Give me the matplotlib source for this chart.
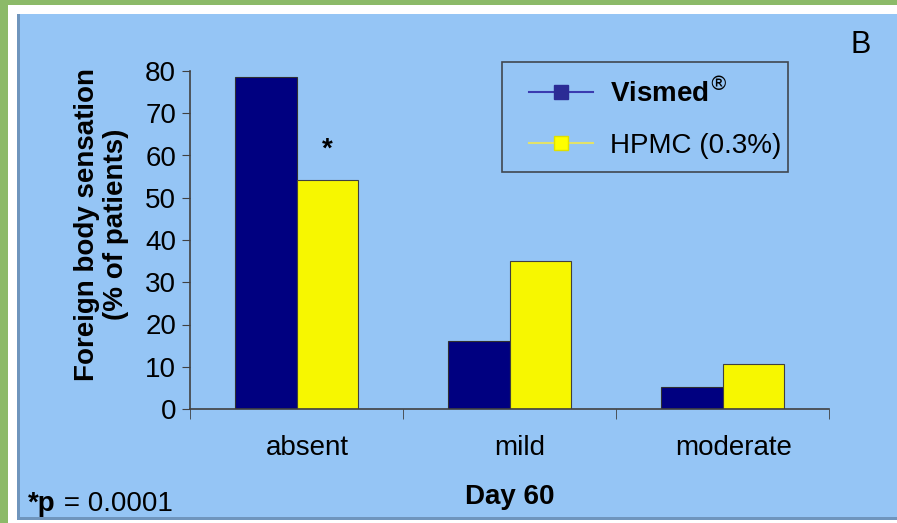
import matplotlib.pyplot as plt
import numpy as np
from matplotlib.patches import Rectangle
from matplotlib.lines import Line2D

categories = ["absent", "mild", "moderate"]
vismed = [78.5, 16.0, 5.3]
hpmc = [54.3, 35.0, 10.6]
yticks = [0, 10, 20, 30, 40, 50, 60, 70, 80]

panel_blue = "#95c5f5"
navy = "#000080"
yellow = "#f7f700"
fs = 20

plt.rcParams["font.family"] = ["Liberation Sans", "DejaVu Sans"]

fig = plt.figure(figsize=(8.97, 5.23), dpi=100)
fig.patch.set_facecolor("#8cba68")

def fig_rect(x0, y0, x1, y1, **kw):
    # rectangle given in pixels from the top-left corner
    return Rectangle((x0 / 897, 1 - y1 / 523), (x1 - x0) / 897, (y1 - y0) / 523,
                     transform=fig.transFigure, **kw)

# white mat and blue panel behind the chart
fig.patches.append(fig_rect(8, 5, 897, 523, facecolor="white", edgecolor="none", zorder=-3))
fig.patches.append(fig_rect(17, 14, 897, 520, facecolor="#6f95bd", edgecolor="none", zorder=-2))
fig.patches.append(fig_rect(20, 14, 897, 517, facecolor=panel_blue, edgecolor="none", zorder=-1))
# legend box
fig.patches.append(fig_rect(502, 62, 788, 172, facecolor="none", edgecolor="#404850",
                            linewidth=1.2, zorder=1))

ax = fig.add_axes([190 / 897, 114 / 523, 639 / 897, 338 / 523])
ax.set_facecolor("none")

x = np.arange(len(categories))
w = 0.29
ax.bar(x - w / 2, vismed, w, color=navy, edgecolor="#303030", linewidth=0.8)
ax.bar(x + w / 2, hpmc, w, color=yellow, edgecolor="#404040", linewidth=0.8)

ax.text(x[0] + w / 2, hpmc[0] + 4, "*", ha="center", va="bottom", fontsize=fs, fontweight="bold")

ax.set_xlim(-0.5, 2.5)
ax.set_ylim(0, 80)
ax.set_yticks(yticks)
ax.set_yticklabels([str(t) for t in yticks], fontsize=fs)
# category labels sit a little right of the group centres
ax.set_xticks(x + 0.05)
ax.set_xticklabels(categories, fontsize=fs)
ax.tick_params(axis="x", length=0, pad=19)
ax.set_xticks(np.arange(-0.5, 3, 1), minor=True)
ax.tick_params(axis="x", which="minor", length=7, color="#404040", direction="out")
ax.tick_params(axis="y", length=6, color="#404040", pad=4)
for side in ["top", "right"]:
    ax.spines[side].set_visible(False)
for side in ["left", "bottom"]:
    ax.spines[side].set_color("#404040")
    ax.spines[side].set_linewidth(1.2)

ax.set_ylabel("Foreign body sensation\n(% of patients)", fontsize=fs, fontweight="bold",
              linespacing=1.15)
ax.yaxis.set_label_coords(-0.095, 0.545)
ax.set_xlabel("Day 60", fontsize=fs, fontweight="bold", labelpad=16)

handles = [
    Line2D([], [], color="#3b3bb0", lw=1.5, marker="s", markersize=9.5,
           markerfacecolor="#2b2b95", markeredgecolor="#2b2b95"),
    Line2D([], [], color="#e2e26a", lw=1.5, marker="s", markersize=9.5,
           markerfacecolor="#ffff00", markeredgecolor="#e0e000"),
]
leg = ax.legend(handles, ["Vismed$^{\\circledR}$", "HPMC (0.3%)"], loc="upper left",
                bbox_to_anchor=(529 / 897, 1 - 78 / 523), bbox_transform=fig.transFigure,
                fontsize=fs, frameon=False, borderaxespad=0, borderpad=0,
                handlelength=2.3, handletextpad=0.6, labelspacing=0.9)
leg.get_texts()[0].set_fontweight("bold")

fig.text(850 / 897, 1 - 45 / 523, "B", fontsize=22, va="center", ha="left")
pt = fig.text(28 / 897, 1 - 504 / 523, "*p", fontsize=fs, fontweight="semibold",
              va="center", ha="left")
ax.annotate(" = 0.0001", xy=(1, 0.5), xycoords=pt, fontsize=fs, va="center", ha="left",
            annotation_clip=False)

fig.savefig("out.png", dpi=100, facecolor=fig.get_facecolor())
